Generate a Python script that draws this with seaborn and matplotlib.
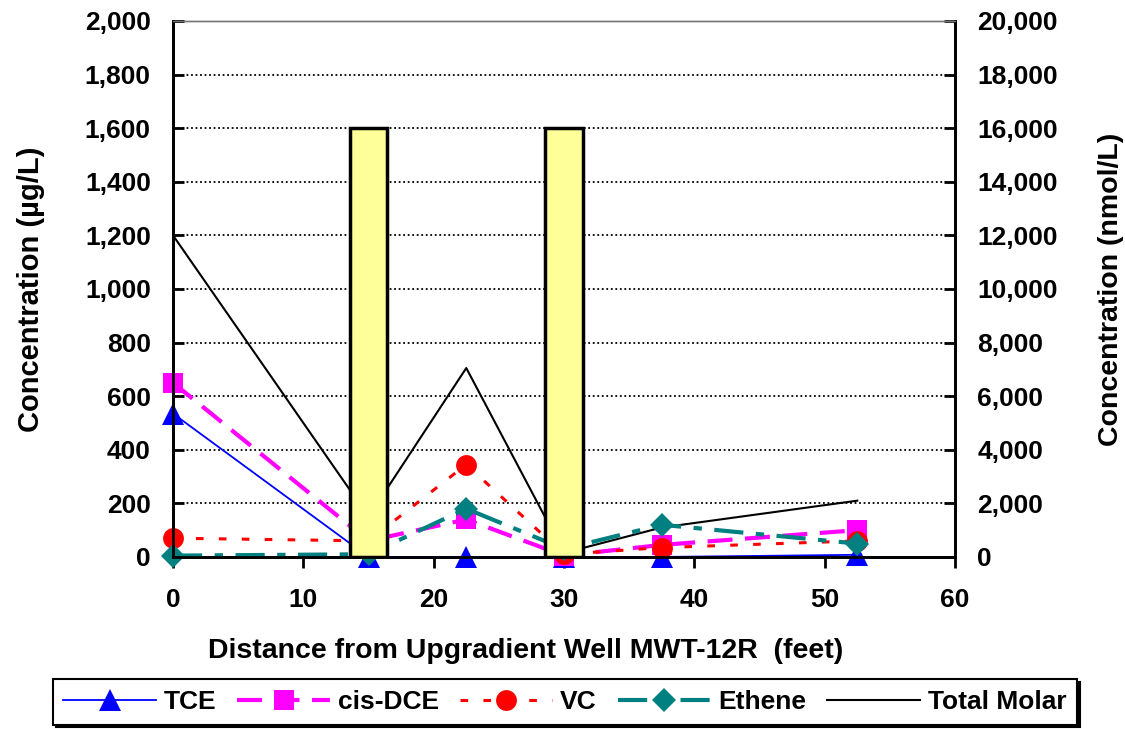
import numpy as np
import pandas as pd
import seaborn as sns
import matplotlib.pyplot as plt
from matplotlib.ticker import StrMethodFormatter

plt.rcParams['font.family'] = ['Liberation Sans', 'DejaVu Sans']
plt.rcParams['font.weight'] = 'bold'
plt.rcParams['axes.labelweight'] = 'bold'

# distance from upgradient well (feet)
x_ft = [0, 15, 22.5, 30, 37.5, 52.5]
tce = [535, 0, 0, 0, 0, 8]
cis_dce = [650, 60, 140, 5, 45, 100]
vc = [70, 60, 345, 10, 35, 60]
ethene = [5, 10, 180, 30, 120, 50]
total_molar = [12000, 1500, 7050, 150, 1100, 2100]

# yellow columns (left axis units)
bar_x = [15, 30]
bar_h = [1600, 1600]

fig = plt.figure(figsize=(11.25, 7.29), dpi=100)
ax = fig.add_axes([0.1538, 0.236, 0.6951, 0.7352])
ax2 = ax.twinx()
ax.set_zorder(ax2.get_zorder() + 1)
ax.patch.set_visible(False)

#Total molar on the right axis, behind everything
sns.lineplot(x=x_ft, y=total_molar, ax=ax2, color='k', lw=1.5, label='Total Molar')

sns.lineplot(x=x_ft, y=tce, ax=ax, color='#0000FF', lw=1.3, marker='^', markersize=16,
             mec='#0000FF', mew=0, label='TCE')
sns.lineplot(x=x_ft, y=cis_dce, ax=ax, color='#FF00FF', lw=3, linestyle=(0, (6, 3)), marker='s',
             markersize=15, mec='#FF00FF', mew=0, label='cis-DCE')
sns.lineplot(x=x_ft, y=vc, ax=ax, color='#FF0000', lw=2.2, linestyle=(0, (2.5, 5)), marker='o',
             markersize=15, mec='#FF0000', mew=0, label='VC')
sns.lineplot(x=x_ft, y=ethene, ax=ax, color='#008080', lw=3, linestyle=(0, (7, 3, 2, 3)), marker='D',
             markersize=12, mec='#008080', mew=0, label='Ethene')
for ln in ax.get_lines():
    ln.set_clip_on(False)

ax.bar(bar_x, bar_h, width=2.9, color='#FFFF99', edgecolor='k', linewidth=2.5, zorder=5)

for a in (ax, ax2):
    if a.get_legend() is not None:
        a.get_legend().remove()

ax.set_xlim(0, 60)
ax.set_xticks(np.arange(0, 61, 10))
ax.set_ylim(0, 2000)
ax.set_yticks(np.arange(0, 2001, 200))
ax2.set_ylim(0, 20000)
ax2.set_yticks(np.arange(0, 20001, 2000))
ax.yaxis.set_major_formatter(StrMethodFormatter('{x:,.0f}'))
ax2.yaxis.set_major_formatter(StrMethodFormatter('{x:,.0f}'))

ax.grid(axis='y', linestyle=(0, (1, 1.5)), color='k', lw=1.3)
ax.tick_params(axis='y', direction='in', length=8, width=2, labelsize=19, pad=16)
ax.tick_params(axis='x', direction='out', length=8, width=2, labelsize=19, pad=14)
ax2.tick_params(axis='y', direction='in', length=8, width=2, labelsize=19, pad=16)

for a in (ax, ax2):
    for s in ('left', 'bottom', 'right'):
        a.spines[s].set_linewidth(2)
        a.spines[s].set_color('k')
    a.spines['top'].set_linewidth(1)
    a.spines['top'].set_color('#777777')

ax.set_xlabel('Distance from Upgradient Well MWT-12R  (feet)', fontsize=20.5, labelpad=19)
ax.xaxis.label.set_x(0.451)
ax.set_ylabel('Concentration (µg/L)', fontsize=21, labelpad=29)
ax2.set_ylabel('Concentration (nmol/L)', fontsize=20.5, labelpad=29)

handles = ax.get_lines()[:4] + ax2.get_lines()[:1]
labels = ['TCE', 'cis-DCE', 'VC', 'Ethene', 'Total Molar']
leg = fig.legend(handles, labels, loc='upper center', bbox_to_anchor=(0.502, 0.068), ncol=5,
                 fontsize=19, frameon=True, fancybox=False, edgecolor='k', handlelength=3.5,
                 handletextpad=0.3, columnspacing=0.8, borderaxespad=0,
                 shadow={'color': 'k', 'alpha': 1})
leg.get_frame().set_linewidth(1.5)

fig.savefig('out.png', dpi=100)
